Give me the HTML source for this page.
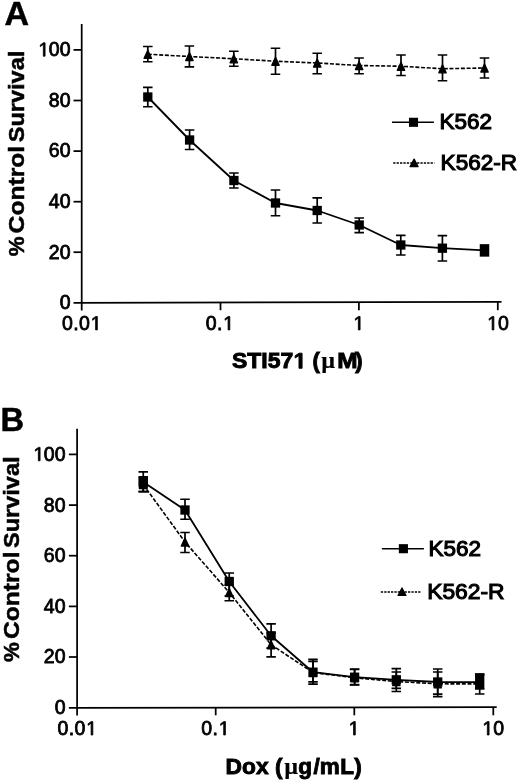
<!DOCTYPE html>
<html><head><meta charset="utf-8"><title>Figure</title>
<style>
html,body{margin:0;padding:0;background:#fff;}
body{width:520px;height:781px;overflow:hidden;font-family:"Liberation Sans",sans-serif;}
svg{display:block;filter:grayscale(1);}
text{font-family:"Liberation Sans",sans-serif;fill:#000;}
.t{font-size:19.5px;stroke:#000;stroke-width:.8px;}
.l{font-size:21.5px;stroke:#000;stroke-width:1.1px;}
.b{font-size:22.5px;font-weight:bold;stroke:#000;stroke-width:.5px;}
.bh{font-size:21px;font-weight:bold;stroke:#000;stroke-width:.9px;}
.p{font-size:34px;font-weight:bold;stroke:#000;stroke-width:.5px;}
.mu{font-family:"Liberation Serif",serif;font-weight:bold;font-size:24px;stroke-width:.2px;}
.g1{fill:#000;stroke:#000;stroke-width:84;}
.ax{stroke:#000;stroke-width:1.75;fill:none;}
.e{stroke:#000;stroke-width:1.7;fill:none;}
.m{fill:#000;stroke:none;}
.mt{fill:#000;stroke:#000;stroke-width:1.3;stroke-linejoin:round;}
.s{stroke:#000;stroke-width:1.8;fill:none;stroke-linejoin:round;}
.d{stroke:#000;stroke-width:1.6;fill:none;stroke-dasharray:4 1.7;}
.ls{stroke:#000;stroke-width:1.6;fill:none;}
.ld{stroke:#000;stroke-width:1.5;fill:none;stroke-dasharray:2.3 1.1;}
</style></head>
<body>
<svg width="520" height="781" viewBox="0 0 520 781">
<rect width="520" height="781" fill="#fff"/>
<path d="M81.7 24V310.4" class="ax"/>
<path d="M73.5 302.8L501.5 301.9" class="ax"/>
<path d="M73.5 252.2H81.7" class="ax"/>
<path d="M73.5 201.7H81.7" class="ax"/>
<path d="M73.5 151.1H81.7" class="ax"/>
<path d="M73.5 100.5H81.7" class="ax"/>
<path d="M73.5 49.9H81.7" class="ax"/>
<path d="M220.5 302.1V310.2" class="ax"/>
<path d="M358.9 302.1V310.2" class="ax"/>
<path d="M497.8 302.1V310.2" class="ax"/>
<text x="59.66" y="308.9" class="t">0</text>
<text x="48.81" y="258.5" class="t">20</text>
<text x="48.81" y="208.0" class="t">40</text>
<text x="48.81" y="157.4" class="t">60</text>
<text x="48.81" y="106.8" class="t">80</text>
<path transform="translate(37.97 56.2) scale(0.00952 -0.00952)" d="M565 0V1237L247 1010V1180L580 1409H746V0Z" class="g1"/>
<text x="48.81" y="56.2" class="t">00</text>
<text x="61.92" y="329.9" class="t" letter-spacing="0.4">0.0</text>
<path transform="translate(90.23 329.9) scale(0.00952 -0.00952)" d="M565 0V1237L247 1010V1180L580 1409H746V0Z" class="g1"/>
<text x="205.65" y="329.9" class="t" letter-spacing="0.4">0.</text>
<path transform="translate(222.71 329.9) scale(0.00952 -0.00952)" d="M565 0V1237L247 1010V1180L580 1409H746V0Z" class="g1"/>
<path transform="translate(352.98 329.9) scale(0.00952 -0.00952)" d="M565 0V1237L247 1010V1180L580 1409H746V0Z" class="g1"/>
<path transform="translate(486.76 329.9) scale(0.00952 -0.00952)" d="M565 0V1237L247 1010V1180L580 1409H746V0Z" class="g1"/>
<text x="498.00" y="329.9" class="t" letter-spacing="0.4">0</text>
<path d="M147.8 54.25L189.4 56.5L233.8 58.75L275.5 61.25L317.2 63L359.1 65.5L401 66.25L442.5 68.75L484.5 68" class="d"/>
<path d="M147.8 46.5V61.75M143.05 46.5H152.55M143.05 61.75H152.55" class="e"/>
<path d="M189.4 46V66.8M184.65 46H194.15M184.65 66.8H194.15" class="e"/>
<path d="M233.8 51.25V66.25M229.05 51.25H238.55M229.05 66.25H238.55" class="e"/>
<path d="M275.5 48.25V74.25M270.75 48.25H280.25M270.75 74.25H280.25" class="e"/>
<path d="M317.2 53.25V73.75M312.45 53.25H321.95M312.45 73.75H321.95" class="e"/>
<path d="M359.1 58V73.75M354.35 58H363.85M354.35 73.75H363.85" class="e"/>
<path d="M401 55V75.5M396.25 55H405.75M396.25 75.5H405.75" class="e"/>
<path d="M442.5 55V80.75M437.75 55H447.25M437.75 80.75H447.25" class="e"/>
<path d="M484.5 58V78M479.75 58H489.25M479.75 78H489.25" class="e"/>
<path d="M147.8 50.20L151.50 58.30H144.10Z" class="mt"/>
<path d="M189.4 52.45L193.10 60.55H185.70Z" class="mt"/>
<path d="M233.8 54.70L237.50 62.80H230.10Z" class="mt"/>
<path d="M275.5 57.20L279.20 65.30H271.80Z" class="mt"/>
<path d="M317.2 58.95L320.90 67.05H313.50Z" class="mt"/>
<path d="M359.1 61.45L362.80 69.55H355.40Z" class="mt"/>
<path d="M401 62.20L404.70 70.30H397.30Z" class="mt"/>
<path d="M442.5 64.70L446.20 72.80H438.80Z" class="mt"/>
<path d="M484.5 63.95L488.20 72.05H480.80Z" class="mt"/>
<path d="M147.8 97L189.6 140L233.9 180.5L275.5 203L317.2 210.5L359.2 225L400.8 245L442.4 248.2L484.5 250.4" class="s"/>
<path d="M147.8 87.3V106.75M143.05 87.3H152.55M143.05 106.75H152.55" class="e"/>
<path d="M189.6 130V149.5M184.85 130H194.35M184.85 149.5H194.35" class="e"/>
<path d="M233.9 173V188M229.15 173H238.65M229.15 188H238.65" class="e"/>
<path d="M275.5 190V215.75M270.75 190H280.25M270.75 215.75H280.25" class="e"/>
<path d="M317.2 197.8V223M312.45 197.8H321.95M312.45 223H321.95" class="e"/>
<path d="M359.2 218V232.6M354.45 218H363.95M354.45 232.6H363.95" class="e"/>
<path d="M400.8 235.4V255M396.05 235.4H405.55M396.05 255H405.55" class="e"/>
<path d="M442.4 235.6V261M437.65 235.6H447.15M437.65 261H447.15" class="e"/>
<rect x="143.15" y="92.35" width="9.3" height="9.3" class="m"/>
<rect x="184.95" y="135.35" width="9.3" height="9.3" class="m"/>
<rect x="229.25" y="175.85" width="9.3" height="9.3" class="m"/>
<rect x="270.85" y="198.35" width="9.3" height="9.3" class="m"/>
<rect x="312.55" y="205.85" width="9.3" height="9.3" class="m"/>
<rect x="354.55" y="220.35" width="9.3" height="9.3" class="m"/>
<rect x="396.15" y="240.35" width="9.3" height="9.3" class="m"/>
<rect x="437.75" y="243.55" width="9.3" height="9.3" class="m"/>
<rect x="479.75" y="244.15" width="9.5" height="12.5" class="m"/>
<path d="M392 122.3H433.9" class="ls"/>
<rect x="408.95" y="117.75" width="9.1" height="9.1" class="m"/>
<path d="M393.2 162.9H434.4" class="ld"/>
<path d="M414.1 159.15L418.05 166.65H410.15Z" class="mt"/>
<text x="439.6" y="129.0" class="l" textLength="52.5" lengthAdjust="spacingAndGlyphs">K562</text>
<text x="440.6" y="169.6" class="l" textLength="76.5" lengthAdjust="spacingAndGlyphs">K562-R</text>
<text x="4.6" y="25.1" class="p">A</text>
<g transform="translate(23.7 255.6) rotate(-90)" class="b"><text x="-0.6" y="0" textLength="19.8" lengthAdjust="spacingAndGlyphs">%</text><text x="22.2" y="0" textLength="87.6" lengthAdjust="spacingAndGlyphs">Control</text><text x="113.3" y="0" textLength="91.6" lengthAdjust="spacingAndGlyphs">Survival</text></g>
<text y="368.3" class="bh" style="font-size:22px"><tspan x="232.0" textLength="61.24" lengthAdjust="spacingAndGlyphs">STI57</tspan><tspan x="312.4">(</tspan><tspan x="321.3" class="mu">&#181;</tspan><tspan x="337.2" textLength="20.3" lengthAdjust="spacingAndGlyphs">M</tspan><tspan x="355.3">)</tspan></text>
<path transform="translate(293.24 368.3) scale(0.01121 -0.01074)" d="M510 0V1170L172 959V1180L525 1409H791V0Z" style="fill:#000;stroke:#000;stroke-width:78"/>
<path d="M77.1 428.7V715.5" class="ax"/>
<path d="M68.9 707.9L496.7 707.0" class="ax"/>
<path d="M68.9 657.0H77.1" class="ax"/>
<path d="M68.9 606.4H77.1" class="ax"/>
<path d="M68.9 555.7H77.1" class="ax"/>
<path d="M68.9 505.1H77.1" class="ax"/>
<path d="M68.9 454.4H77.1" class="ax"/>
<path d="M215.7 707.2V715.3" class="ax"/>
<path d="M354.3 707.2V715.3" class="ax"/>
<path d="M493.3 707.2V715.3" class="ax"/>
<text x="54.66" y="714.1" class="t">0</text>
<text x="43.81" y="663.4" class="t">20</text>
<text x="43.81" y="612.8" class="t">40</text>
<text x="43.81" y="562.1" class="t">60</text>
<text x="43.81" y="511.5" class="t">80</text>
<path transform="translate(32.97 460.8) scale(0.00952 -0.00952)" d="M565 0V1237L247 1010V1180L580 1409H746V0Z" class="g1"/>
<text x="43.81" y="460.8" class="t">00</text>
<text x="57.42" y="735.0" class="t" letter-spacing="0.4">0.0</text>
<path transform="translate(85.73 735.0) scale(0.00952 -0.00952)" d="M565 0V1237L247 1010V1180L580 1409H746V0Z" class="g1"/>
<text x="201.25" y="735.0" class="t" letter-spacing="0.4">0.</text>
<path transform="translate(218.31 735.0) scale(0.00952 -0.00952)" d="M565 0V1237L247 1010V1180L580 1409H746V0Z" class="g1"/>
<path transform="translate(348.18 735.0) scale(0.00952 -0.00952)" d="M565 0V1237L247 1010V1180L580 1409H746V0Z" class="g1"/>
<path transform="translate(481.96 735.0) scale(0.00952 -0.00952)" d="M565 0V1237L247 1010V1180L580 1409H746V0Z" class="g1"/>
<text x="493.20" y="735.0" class="t" letter-spacing="0.4">0</text>
<path d="M143.25 484.6L185 542L229.25 592.5L271.1 644.7L313.0 672.5L354.6 677.8L396.3 681.5L437.7 683.8L479.7 683.9" class="d"/>
<path d="M143.25 476.8V491.6M138.5 476.8H148.0M138.5 491.6H148.0" class="e"/>
<path d="M185 532.5V552.5M180.25 532.5H189.75M180.25 552.5H189.75" class="e"/>
<path d="M229.25 585V600.75M224.5 585H234.0M224.5 600.75H234.0" class="e"/>
<path d="M271.1 633V656.8M266.35 633H275.85M266.35 656.8H275.85" class="e"/>
<path d="M313.0 661.4V684.2M308.25 661.4H317.75M308.25 684.2H317.75" class="e"/>
<path d="M354.6 669.5V685M349.85 669.5H359.35M349.85 685H359.35" class="e"/>
<path d="M396.3 672V691.5M391.55 672H401.05M391.55 691.5H401.05" class="e"/>
<path d="M437.7 672V696.7M432.95 672H442.45M432.95 696.7H442.45" class="e"/>
<path d="M479.7 675V694M474.95 675H484.45M474.95 694H484.45" class="e"/>
<path d="M143.25 480.55L146.95 488.65H139.55Z" class="mt"/>
<path d="M185 537.95L188.70 546.05H181.30Z" class="mt"/>
<path d="M229.25 588.45L232.95 596.55H225.55Z" class="mt"/>
<path d="M271.1 640.65L274.80 648.75H267.40Z" class="mt"/>
<path d="M313.0 668.45L316.70 676.55H309.30Z" class="mt"/>
<path d="M354.6 673.75L358.30 681.85H350.90Z" class="mt"/>
<path d="M396.3 677.45L400.00 685.55H392.60Z" class="mt"/>
<path d="M437.7 679.75L441.40 687.85H434.00Z" class="mt"/>
<path d="M479.7 679.85L483.40 687.95H476.00Z" class="mt"/>
<path d="M143.25 482L185 510L229.25 581.5L271.1 635.8L313.0 672.2L354.6 677.2L396.3 679.8L437.7 682L479.7 682.2" class="s"/>
<path d="M143.25 471.8V491.6M138.5 471.8H148.0M138.5 491.6H148.0" class="e"/>
<path d="M185 499.25V519.25M180.25 499.25H189.75M180.25 519.25H189.75" class="e"/>
<path d="M229.25 573V596M224.5 573H234.0M224.5 596H234.0" class="e"/>
<path d="M271.1 623.9V648.2M266.35 623.9H275.85M266.35 648.2H275.85" class="e"/>
<path d="M313.0 659.4V681.8M308.25 659.4H317.75M308.25 681.8H317.75" class="e"/>
<path d="M354.6 669V684.6M349.85 669H359.35M349.85 684.6H359.35" class="e"/>
<path d="M396.3 668.7V688.4M391.55 668.7H401.05M391.55 688.4H401.05" class="e"/>
<path d="M437.7 669V694.1M432.95 669H442.45M432.95 694.1H442.45" class="e"/>
<path d="M479.7 674V689M474.95 674H484.45M474.95 689H484.45" class="e"/>
<rect x="138.60" y="477.35" width="9.3" height="9.3" class="m"/>
<rect x="180.35" y="505.35" width="9.3" height="9.3" class="m"/>
<rect x="224.60" y="576.85" width="9.3" height="9.3" class="m"/>
<rect x="266.45" y="631.15" width="9.3" height="9.3" class="m"/>
<rect x="308.35" y="667.55" width="9.3" height="9.3" class="m"/>
<rect x="349.95" y="672.55" width="9.3" height="9.3" class="m"/>
<rect x="391.65" y="675.15" width="9.3" height="9.3" class="m"/>
<rect x="433.05" y="677.35" width="9.3" height="9.3" class="m"/>
<rect x="475.05" y="673.40" width="9.3" height="15.6" class="m"/>
<rect x="138.7" y="477.2" width="9.2" height="11.4" class="m"/>
<path d="M381.9 548.7H423.9" class="ls"/>
<rect x="398.85" y="544.15" width="9.1" height="9.1" class="m"/>
<path d="M380.8 591.9H420.8" class="ld"/>
<path d="M402 587.95L405.95 595.45H398.05Z" class="mt"/>
<text x="428.6" y="555.9" class="l" textLength="52.5" lengthAdjust="spacingAndGlyphs">K562</text>
<text x="427.2" y="598.7" class="l" textLength="77.4" lengthAdjust="spacingAndGlyphs">K562-R</text>
<text x="0.5" y="430.8" class="p" textLength="23.6" lengthAdjust="spacingAndGlyphs">B</text>
<g transform="translate(19 661.3) rotate(-90)" class="b"><text x="-0.6" y="0" textLength="19.8" lengthAdjust="spacingAndGlyphs">%</text><text x="22.2" y="0" textLength="87.6" lengthAdjust="spacingAndGlyphs">Control</text><text x="113.3" y="0" textLength="91.6" lengthAdjust="spacingAndGlyphs">Survival</text></g>
<text y="773.8" class="bh" style="font-size:22.5px"><tspan x="225.6" textLength="43" lengthAdjust="spacingAndGlyphs">Dox</tspan><tspan x="275.0">(</tspan><tspan x="284.3" class="mu">&#181;</tspan><tspan x="298.2">g</tspan><tspan x="313.6">/</tspan><tspan x="319.8">m</tspan><tspan x="340.2">L</tspan><tspan x="354.3">)</tspan></text>
</svg>
</body></html>
